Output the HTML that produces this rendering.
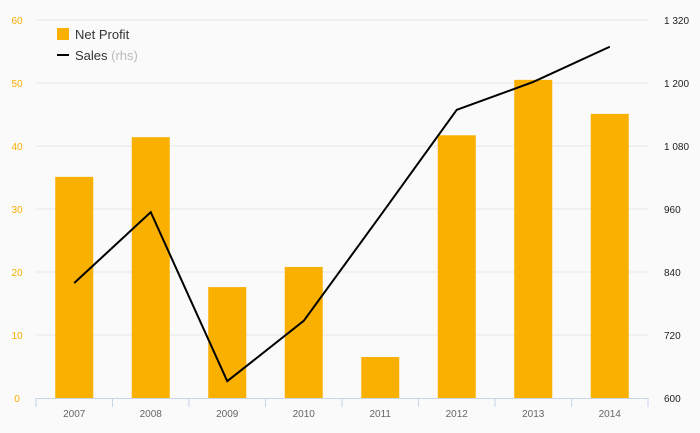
<!DOCTYPE html>
<html><head><meta charset="utf-8"><style>
body{margin:0;background:#fafafa;}
svg{display:block;font-family:"Liberation Sans",sans-serif;}
</style></head><body>
<svg id="chart" width="700" height="433">
<rect width="700" height="433" fill="#fafafa"/>
<g id="grid"></g><g id="bars"></g><g id="line"></g><g id="axes"></g>
<g>
<rect x="57" y="28" width="12" height="12" fill="#f9b000"/>
<text x="75" y="39" font-size="13" fill="#333">Net Profit</text>
<line x1="57" y1="55" x2="69" y2="55" stroke="#000" stroke-width="2"/>
<text x="75" y="60" font-size="13" fill="#333">Sales <tspan fill="#bbb">(rhs)</tspan></text>
</g>
</svg>
<script>
const categories=["2007","2008","2009","2010","2011","2012","2013","2014"];
const netProfit=[35.1,41.4,17.6,20.8,6.5,41.7,50.5,45.1];
const sales=[819,954,632,747,947,1149,1202,1269];
const leftTicks=[0,10,20,30,40,50,60];
const rightTicks=[600,720,840,960,1080,1200,1320];
const rightTickLabels=["600","720","840","960","1 080","1 200","1 320"];
const NS="http://www.w3.org/2000/svg";
const X0=36,X1=648,Y0=398,Y1=20;
const step=(X1-X0)/categories.length;
const xc=i=>X0+step*(i+0.5);
const yL=v=>Y0-(v-0)/(60-0)*(Y0-Y1);
const yR=v=>Y0-(v-600)/(1320-600)*(Y0-Y1);
function mk(tag,attrs,parent,txt){const e=document.createElementNS(NS,tag);for(const k in attrs)e.setAttribute(k,attrs[k]);if(txt!==undefined)e.textContent=txt;document.getElementById(parent).appendChild(e);return e;}
leftTicks.forEach((t,i)=>{
 if(t>0){const g=mk('line',{x1:X0,x2:X1,y1:yL(t),y2:yL(t),stroke:'#e6e6e6'},'grid');
 
 }
 const l=mk('text',{x:17,y:yL(t)+4,'font-size':10,fill:'#f9b000','text-anchor':'middle'},'axes',t);
 
 
});
rightTicks.forEach((t,i)=>{
 const l=mk('text',{x:664,y:yR(t)+4,'font-size':10,fill:'#222'},'axes',rightTickLabels[i]);
 
 
});
netProfit.forEach((v,i)=>{
 const b=mk('rect',{x:xc(i)-19,y:yL(v),width:38,height:Y0-yL(v),fill:'#f9b000'},'bars');
 
 
});
const p=mk('polyline',{points:sales.map((v,i)=>xc(i)+','+yR(v)).join(' '),fill:'none',stroke:'#000','stroke-width':2},'line');


const ax=mk('line',{x1:X0,x2:X1,y1:Y0+0.5,y2:Y0+0.5,stroke:'#c8d4ea'},'axes');


for(let i=0;i<=categories.length;i++){
 const tk=mk('line',{x1:X0+step*i,x2:X0+step*i,y1:Y0,y2:Y0+9,stroke:'#c8d4ea'},'axes');
 
 
}
categories.forEach((c,i)=>{
 const l=mk('text',{x:xc(i),y:417,'font-size':10,fill:'#666','text-anchor':'middle'},'axes',c);
 
 
});
</script>
</body></html>
